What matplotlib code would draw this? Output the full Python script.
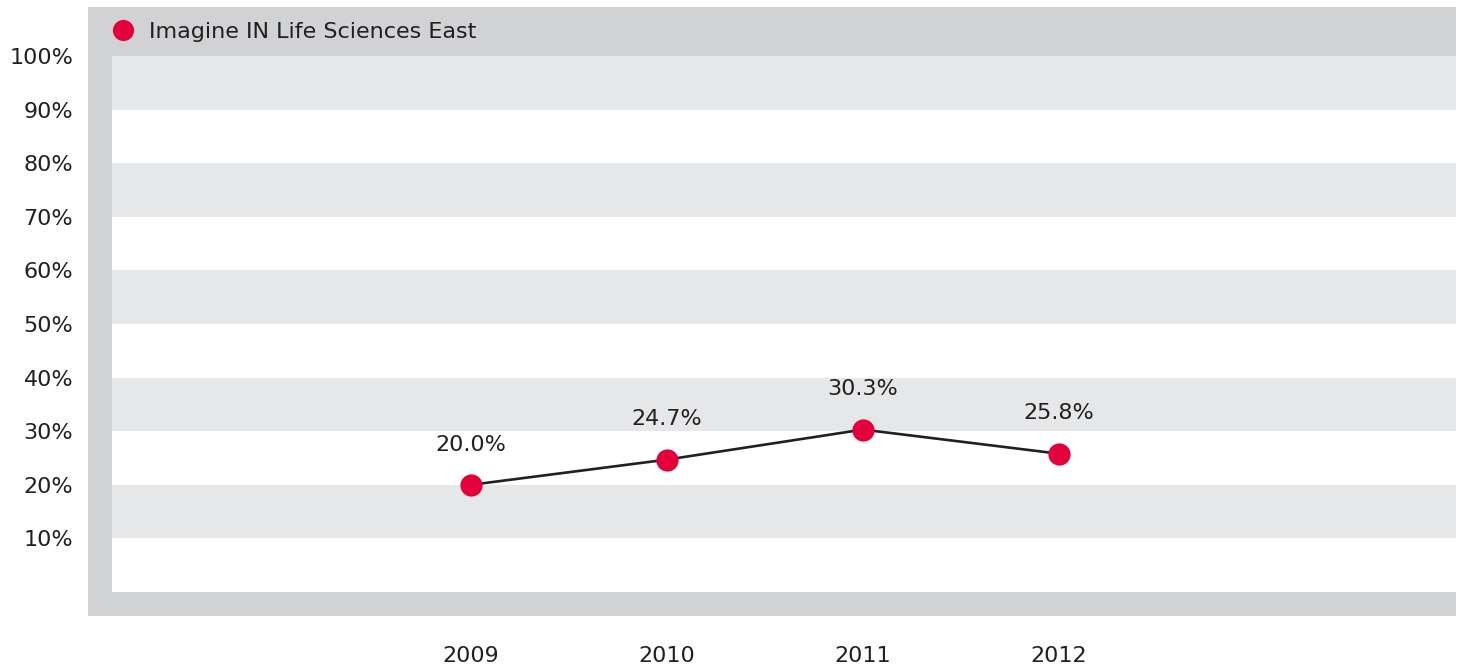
import matplotlib.pyplot as plt
from matplotlib.patches import Rectangle

# Datos
years = ['2009', '2010', '2011', '2012']
values = [20.0, 24.7, 30.3, 25.8]
value_labels = ['20.0%', '24.7%', '30.3%', '25.8%']
y_ticks = [10, 20, 30, 40, 50, 60, 70, 80, 90, 100]
y_tick_labels = ['10%', '20%', '30%', '40%', '50%', '60%', '70%', '80%', '90%', '100%']
series_name = 'Imagine IN Life Sciences East'

# Colores
red = '#e4003a'
dark = '#231f20'
frame_gray = '#d1d2d4'
band_gray = '#e6e7e8'

plt.rcParams['font.family'] = ['DejaVu Sans']
fs = 16

W, H = 1461, 666
fig = plt.figure(figsize=(W / 100, H / 100), dpi=100)
# área de datos en píxeles: x 112-1456, y 56-592
ax = fig.add_axes([112 / W, 1 - 592 / H, (1456 - 112) / W, (592 - 56) / H])

x = list(range(len(years)))
ax.set_xlim(-1.832, 5.026)
ax.set_ylim(0, 100)

# bandas horizontales
for lo in [10, 30, 50, 70, 90]:
    ax.axhspan(lo, lo + 10, color=band_gray, lw=0, zorder=0)

# marco gris (izquierda, arriba, abajo)
aw = 1456 - 112
ah = 592 - 56
frame = [
    (-24 / aw, -24 / ah, 24 / aw, (616 - 7) / ah),   # izquierda
    (-24 / aw, 1, (1456 - 88) / aw, 49 / ah),        # arriba
    (-24 / aw, -24 / ah, (1456 - 88) / aw, 24 / ah),  # abajo
]
for (fx, fy, fw, fh) in frame:
    ax.add_patch(Rectangle((fx, fy), fw, fh, transform=ax.transAxes,
                           facecolor=frame_gray, edgecolor='none',
                           clip_on=False, zorder=0))

# serie
ax.plot(x, values, color=dark, lw=1.9, zorder=2)
ax.plot(x, values, ls='none', marker='o', ms=16, color=red,
        markeredgewidth=0, zorder=3, label=series_name)

for xi, v, lab in zip(x, values, value_labels):
    ax.annotate(lab, (xi, v), xytext=(0, 29), textcoords='offset points',
                ha='center', va='center', fontsize=fs, color=dark)

ax.set_yticks(y_ticks)
ax.set_yticklabels(y_tick_labels, fontsize=fs, color=dark)
ax.set_xticks(x)
ax.set_xticklabels(years, fontsize=fs, color=dark)
ax.tick_params(axis='y', length=0, pad=28)
ax.tick_params(axis='x', length=0, pad=39)
for s in ax.spines.values():
    s.set_visible(False)

leg = ax.legend(loc='center left', bbox_to_anchor=(0.0, 1 + 24 / ah),
                frameon=False, fontsize=fs, handlelength=1.0,
                handletextpad=0.67, borderpad=0, borderaxespad=0,
                markerscale=0.95)
for t in leg.get_texts():
    t.set_color(dark)

fig.savefig('out.png', dpi=100)
